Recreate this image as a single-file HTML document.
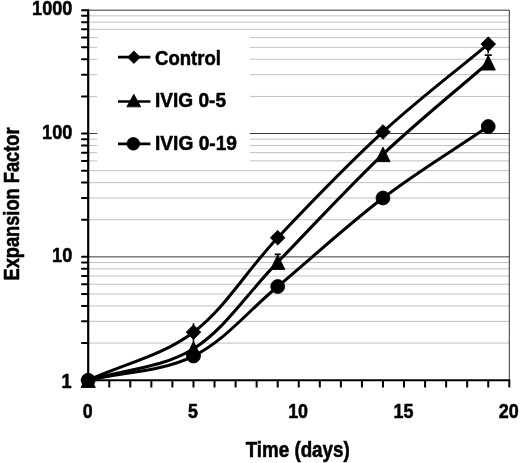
<!DOCTYPE html>
<html><head><meta charset="utf-8"><title>Expansion Factor vs Time</title>
<style>html,body{margin:0;padding:0;background:#fff}svg{display:block;filter:grayscale(1)}text{font-family:"Liberation Sans",Arial,sans-serif;font-weight:bold;fill:#000;stroke:#000;stroke-width:0.55px;stroke-linejoin:round}</style></head><body>
<svg width="520" height="463" viewBox="0 0 520 463">
<rect width="520" height="463" fill="#fff"/>
<g stroke="#ababab" stroke-width="0.75"><line x1="88.2" x2="509.3" y1="343.07" y2="343.07"/><line x1="88.2" x2="509.3" y1="321.36" y2="321.36"/><line x1="88.2" x2="509.3" y1="305.95" y2="305.95"/><line x1="88.2" x2="509.3" y1="293.99" y2="293.99"/><line x1="88.2" x2="509.3" y1="284.23" y2="284.23"/><line x1="88.2" x2="509.3" y1="275.97" y2="275.97"/><line x1="88.2" x2="509.3" y1="268.82" y2="268.82"/><line x1="88.2" x2="509.3" y1="262.51" y2="262.51"/><line x1="88.2" x2="509.3" y1="219.74" y2="219.74"/><line x1="88.2" x2="509.3" y1="198.02" y2="198.02"/><line x1="88.2" x2="509.3" y1="182.61" y2="182.61"/><line x1="88.2" x2="509.3" y1="170.66" y2="170.66"/><line x1="88.2" x2="509.3" y1="160.89" y2="160.89"/><line x1="88.2" x2="509.3" y1="152.64" y2="152.64"/><line x1="88.2" x2="509.3" y1="145.49" y2="145.49"/><line x1="88.2" x2="509.3" y1="139.18" y2="139.18"/><line x1="88.2" x2="509.3" y1="96.41" y2="96.41"/><line x1="88.2" x2="509.3" y1="74.69" y2="74.69"/><line x1="88.2" x2="509.3" y1="59.28" y2="59.28"/><line x1="88.2" x2="509.3" y1="47.33" y2="47.33"/><line x1="88.2" x2="509.3" y1="37.56" y2="37.56"/><line x1="88.2" x2="509.3" y1="29.30" y2="29.30"/><line x1="88.2" x2="509.3" y1="22.15" y2="22.15"/><line x1="88.2" x2="509.3" y1="15.84" y2="15.84"/></g>
<g stroke="#3a3a3a" stroke-width="1"><line x1="88.2" x2="509.3" y1="256.87" y2="256.87"/><line x1="88.2" x2="509.3" y1="133.53" y2="133.53"/></g>
<path d="M88.2 10.20 H509.3 V380.20" fill="none" stroke="#333" stroke-width="1"/>
<rect x="97.3" y="32" width="152.5" height="133" fill="#fff"/>
<path d="M88.20 380.20 C123.29 364.20 161.89 355.95 193.48 332.20 C225.06 308.45 246.11 271.08 277.69 237.71 C309.28 204.33 347.88 164.22 382.97 131.95 C418.06 99.68 453.15 73.39 488.25 44.11" fill="none" stroke="#000" stroke-width="3.05" stroke-linejoin="round"/>
<path d="M88.20 380.20 C123.29 369.71 161.89 368.39 193.48 348.72 C225.06 329.04 246.11 294.55 277.69 262.15 C309.28 229.76 347.88 187.58 382.97 154.35 C418.06 121.11 453.15 93.27 488.25 62.74" fill="none" stroke="#000" stroke-width="3.05" stroke-linejoin="round"/>
<path d="M88.20 380.20 C123.29 372.15 161.89 371.65 193.48 356.04 C225.06 340.42 246.11 312.84 277.69 286.51 C309.28 260.17 347.88 224.69 382.97 198.02 C418.06 171.36 453.15 150.35 488.25 126.52" fill="none" stroke="#000" stroke-width="3.05" stroke-linejoin="round"/>
<g fill="#000" stroke="#000" stroke-width="0.9" stroke-linejoin="round"><path d="M88.20 372.90 L95.50 380.20 L88.20 387.50 L80.90 380.20Z"/><path d="M193.48 324.90 L200.78 332.20 L193.48 339.50 L186.18 332.20Z"/><path d="M277.69 230.41 L285.00 237.71 L277.69 245.01 L270.39 237.71Z"/><path d="M382.97 124.65 L390.27 131.95 L382.97 139.25 L375.67 131.95Z"/><path d="M488.25 36.81 L495.55 44.11 L488.25 51.41 L480.94 44.11Z"/><path d="M88.20 372.90 L95.30 387.50 L81.10 387.50Z"/><path d="M193.48 341.42 L200.58 356.02 L186.38 356.02Z"/><path d="M277.69 254.85 L284.80 269.45 L270.59 269.45Z"/><path d="M382.97 147.05 L390.07 161.65 L375.87 161.65Z"/><path d="M488.25 55.44 L495.35 70.04 L481.14 70.04Z"/><circle cx="88.20" cy="380.20" r="6.90"/><circle cx="193.48" cy="356.04" r="6.90"/><circle cx="277.69" cy="286.51" r="6.90"/><circle cx="382.97" cy="198.02" r="6.90"/><circle cx="488.25" cy="126.52" r="6.90"/></g>
<path d="M193.48 323.20V341.70M193.48 339.22V348.72M488.25 44.11V53.61M488.25 54.74V62.74M484.75 55.14H491.75M274.69 254.35H280.69" fill="none" stroke="#000" stroke-width="1.6"/>
<g stroke="#000" fill="none">
<line x1="88.20" x2="88.20" y1="9.40" y2="381.10" stroke-width="2.2"/>
<line x1="87.10" x2="510.20" y1="380.20" y2="380.20" stroke-width="1.9"/>
<path d="M82.00 380.20H88.20M82.00 343.07H88.20M82.00 321.36H88.20M82.00 305.95H88.20M82.00 293.99H88.20M82.00 284.23H88.20M82.00 275.97H88.20M82.00 268.82H88.20M82.00 262.51H88.20M82.00 256.87H88.20M82.00 219.74H88.20M82.00 198.02H88.20M82.00 182.61H88.20M82.00 170.66H88.20M82.00 160.89H88.20M82.00 152.64H88.20M82.00 145.49H88.20M82.00 139.18H88.20M82.00 133.53H88.20M82.00 96.41H88.20M82.00 74.69H88.20M82.00 59.28H88.20M82.00 47.33H88.20M82.00 37.56H88.20M82.00 29.30H88.20M82.00 22.15H88.20M82.00 15.84H88.20M82.00 10.20H88.20" stroke-width="2" stroke-linecap="round"/>
<path d="M88.20 380.20V387.40M109.25 380.20V387.40M130.31 380.20V387.40M151.37 380.20V387.40M172.42 380.20V387.40M193.48 380.20V387.40M214.53 380.20V387.40M235.59 380.20V387.40M256.64 380.20V387.40M277.69 380.20V387.40M298.75 380.20V387.40M319.81 380.20V387.40M340.86 380.20V387.40M361.92 380.20V387.40M382.97 380.20V387.40M404.02 380.20V387.40M425.08 380.20V387.40M446.14 380.20V387.40M467.19 380.20V387.40M488.25 380.20V387.40M509.30 380.20V387.40" stroke-width="2"/>
</g>
<line x1="118" x2="150.4" y1="57.2" y2="57.2" stroke="#000" stroke-width="2.7"/>
<line x1="118" x2="150.4" y1="101.5" y2="101.5" stroke="#000" stroke-width="2.7"/>
<line x1="118" x2="150.4" y1="143.8" y2="143.8" stroke="#000" stroke-width="2.7"/>
<g stroke="#000" stroke-width="0.8" stroke-linejoin="round">
<path d="M133.90 50.90 L140.20 57.20 L133.90 63.50 L127.60 57.20Z"/>
<path d="M133.80 94.35 L140.80 106.85 L126.80 106.85Z"/>
<circle cx="133.30" cy="143.80" r="6.30"/>
</g>
<text x="155.0" y="64.7" font-size="21" text-anchor="start" textLength="66.0" lengthAdjust="spacingAndGlyphs">Control</text>
<text x="155.0" y="107.3" font-size="21" text-anchor="start" textLength="71.0" lengthAdjust="spacingAndGlyphs">IVIG 0-5</text>
<text x="155.0" y="150.3" font-size="21" text-anchor="start" textLength="82.0" lengthAdjust="spacingAndGlyphs">IVIG 0-19</text>
<text x="72.3" y="15.3" font-size="20" text-anchor="end" textLength="40.2" lengthAdjust="spacingAndGlyphs">1000</text>
<text x="72.3" y="138.8" font-size="20" text-anchor="end" textLength="30.2" lengthAdjust="spacingAndGlyphs">100</text>
<text x="72.3" y="262.2" font-size="20" text-anchor="end" textLength="20.2" lengthAdjust="spacingAndGlyphs">10</text>
<text x="71.5" y="388.0" font-size="20" text-anchor="end" textLength="10.1" lengthAdjust="spacingAndGlyphs">1</text>
<text x="87.6" y="418.0" font-size="20" text-anchor="middle" textLength="9.9" lengthAdjust="spacingAndGlyphs">0</text>
<text x="192.9" y="418.0" font-size="20" text-anchor="middle" textLength="9.9" lengthAdjust="spacingAndGlyphs">5</text>
<text x="298.1" y="418.0" font-size="20" text-anchor="middle" textLength="19.9" lengthAdjust="spacingAndGlyphs">10</text>
<text x="403.4" y="418.0" font-size="20" text-anchor="middle" textLength="19.9" lengthAdjust="spacingAndGlyphs">15</text>
<text x="508.7" y="418.0" font-size="20" text-anchor="middle" textLength="19.9" lengthAdjust="spacingAndGlyphs">20</text>
<text x="297.7" y="456.5" font-size="21.4" text-anchor="middle" textLength="104.0" lengthAdjust="spacingAndGlyphs">Time (days)</text>
<text transform="translate(18.8 204) rotate(-90)" font-size="21.5" text-anchor="middle" textLength="153" lengthAdjust="spacingAndGlyphs">Expansion Factor</text>
</svg></body></html>
